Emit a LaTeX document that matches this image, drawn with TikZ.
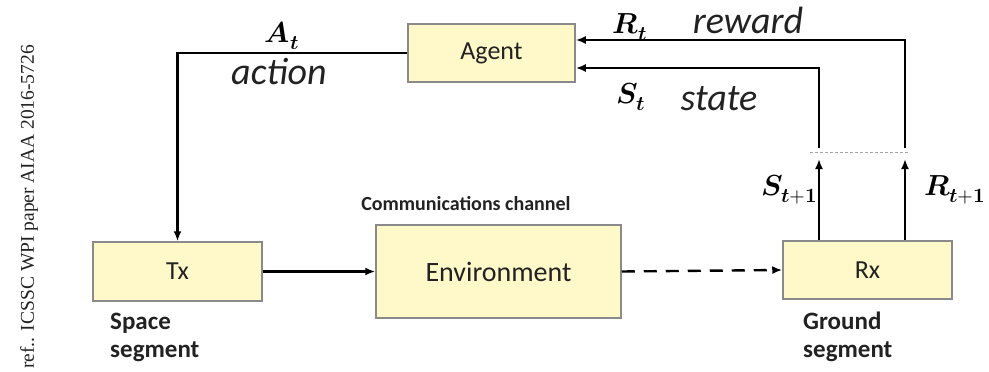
\documentclass[tikz,border=0pt]{standalone}
\usepackage{fontspec}
\usepackage{unicode-math}
\setmainfont{Carlito}
\setmathfont{Latin Modern Math}
\newfontfamily\refserif{Liberation Serif}
\usetikzlibrary{arrows.meta}
\definecolor{boxfill}{HTML}{FFF8C8}
\definecolor{boxline}{HTML}{8A8A8A}
\definecolor{txtdark}{HTML}{222222}
\tikzset{
  box/.style={draw=boxline, line width=1.5pt, fill=boxfill, inner sep=0pt, text=txtdark, font=\fontsize{26}{26}\selectfont},
  arr/.style={line width=2.4pt, -{Latex[length=10pt,width=8pt]}},
  seglabel/.style={font=\bfseries\fontsize{25}{28}\selectfont, align=left, text=txtdark, anchor=north west, inner sep=0pt},
  biglabel/.style={font=\itshape\fontsize{38}{38}\selectfont, text=txtdark, inner sep=0pt},
  mathlabel/.style={font=\fontsize{29}{29}\selectfont, inner sep=0pt},
}
\begin{document}
\begin{tikzpicture}[x=1pt,y=-1pt]
\useasboundingbox (0,0) rectangle (989,372);
% boxes
\node[box, minimum width=167pt, minimum height=58pt] (agent) at (491.5,53) {Agent};
\node[box, minimum width=169pt, minimum height=59pt] (tx) at (177.5,271.5) {Tx};
\node[box, minimum width=245pt, minimum height=93pt, font=\fontsize{28}{28}\selectfont] (env) at (498.5,271.5) {Environment};
\node[box, minimum width=169pt, minimum height=58pt] (rx) at (867.5,270) {Rx};
% coordinates
\coordinate (stop) at (819,148);
\coordinate (rtop) at (905,148);
\coordinate (sup) at (819,159);
\coordinate (rup) at (905,159);
\coordinate (dl) at (810,152);
\coordinate (dr) at (910,152);
% connectors
\draw[arr] (agent.west) -| (tx.north);
\draw[arr] (tx.east) -- (env.west);
\draw[arr, dash pattern=on 13pt off 9pt] (env.east) -- (rx.west);
\draw[arr] (rtop) |- ([yshift=13pt]agent.east);
\draw[arr] (stop) |- ([yshift=-15pt]agent.east);
\draw[arr] (rx.north -| sup) -- (sup);
\draw[arr] (rx.north -| rup) -- (rup);
\draw[gray!70, line width=0.9pt, dash pattern=on 3pt off 2pt] (dl) -- (dr);
% labels
\node[mathlabel] (at) at (282,36) {$\symbfit{A}_{\symbfit{t}}$};
\node[biglabel] (action) at (279,72) {action};
\node[mathlabel] (rt) at (630,27) {$\symbfit{R}_{\symbfit{t}}$};
\node[biglabel] (reward) at (748,20) {reward};
\node[mathlabel] (st) at (631,97) {$\symbfit{S}_{\symbfit{t}}$};
\node[biglabel] (state) at (719,99) {state};
\node[mathlabel, anchor=east] (st1) at (818,190) {$\symbfit{S}_{\symbfit{t}\symbf{+1}}$};
\node[mathlabel, anchor=west] (rt1) at (924,190) {$\symbfit{R}_{\symbfit{t}\symbf{+1}}$};
\node[font=\bfseries\fontsize{20}{20}\selectfont, text=txtdark, inner sep=0pt] (comm) at (466,204) {Communications channel};
\node[seglabel] (space) at (110,313) {Space\\segment};
\node[seglabel] (ground) at (803,312) {Ground\\segment};
\node[rotate=90, font=\refserif\fontsize{19.5}{19.5}\selectfont, text=txtdark, inner sep=0pt] (ref) at (29,207) {ref.. ICSSC WPI paper AIAA 2016-5726};
\end{tikzpicture}
\end{document}
